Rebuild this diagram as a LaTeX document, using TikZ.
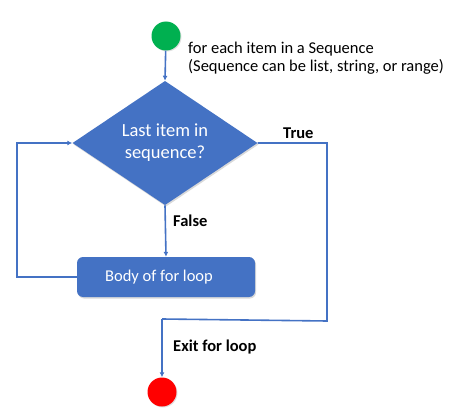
\documentclass[tikz,border=0pt]{standalone}
\usepackage{fontspec}
\setmainfont{Carlito}
\usetikzlibrary{shapes.geometric,arrows.meta,shadows}
\definecolor{flowblue}{HTML}{4472C4}
\definecolor{startgreen}{HTML}{00B050}
\tikzset{
    flowline/.style={draw=flowblue,line width=1.6pt},
    flowarrow/.style={flowline,-{Latex[length=5pt,width=5pt]}},
    terminal/.style={circle,minimum size=29pt,inner sep=0pt,drop shadow={opacity=0.25,shadow xshift=1pt,shadow yshift=-1pt}},
    decision/.style={diamond,fill=flowblue,text=white,minimum width=185pt,minimum height=115pt,inner sep=0pt,align=center,font=\fontsize{18.5}{22}\selectfont,drop shadow={opacity=0.3,shadow xshift=1pt,shadow yshift=-1.5pt}},
    process/.style={rectangle,rounded corners=6pt,fill=flowblue,text=white,minimum width=178pt,minimum height=40pt,font=\fontsize{16.5}{18}\selectfont,drop shadow={opacity=0.3,shadow xshift=1pt,shadow yshift=-1.5pt}},
    note/.style={font=\fontsize{16.5}{18}\selectfont,align=left,inner sep=0pt},
    flowlabel/.style={font=\bfseries\fontsize{16.5}{18}\selectfont,inner sep=0pt}
}
\begin{document}
\begin{tikzpicture}[x=1pt,y=-1pt]
    \useasboundingbox (0,0) rectangle (458,417);
    % start and stop
    \node[terminal,fill=startgreen] (start) at (166,36) {};
    \node[terminal,fill=red] (stop) at (162,392) {};
    \node[note,anchor=west] (desc) at (188,58) {for each item in a Sequence\\(Sequence can be list, string, or range)};
    % decision and body
    \node[decision] (check) at (165,143) {Last item in\\sequence?};
    \node[process] (body) at (166,277) {\hspace*{-14pt}Body of for loop};
    % corners of the connectors
    \coordinate (backL) at (17,277);
    \coordinate (backT) at (17,143);
    \coordinate (trueR) at (327,143);
    \coordinate (trueB) at (327,321);
    \coordinate (exitL) at (162,319);
    % connectors
    \draw[flowarrow] (start) -- (check.north);
    \draw[flowarrow] (check.south) -- (body.north);
    \draw[flowarrow] (body.west) -- (backL) -- (backT) -- (check.west);
    \draw[flowline] (check.east) -- (trueR) -- (trueB) -- (exitL);
    \draw[flowarrow] (exitL) -- (stop.north);
    % labels
    \node[flowlabel,anchor=west] (truelbl) at (283,133) {True};
    \node[flowlabel,anchor=west] (falselbl) at (173,221) {False};
    \node[flowlabel,anchor=west] (exitlbl) at (173,347) {Exit for loop};
\end{tikzpicture}
\end{document}
